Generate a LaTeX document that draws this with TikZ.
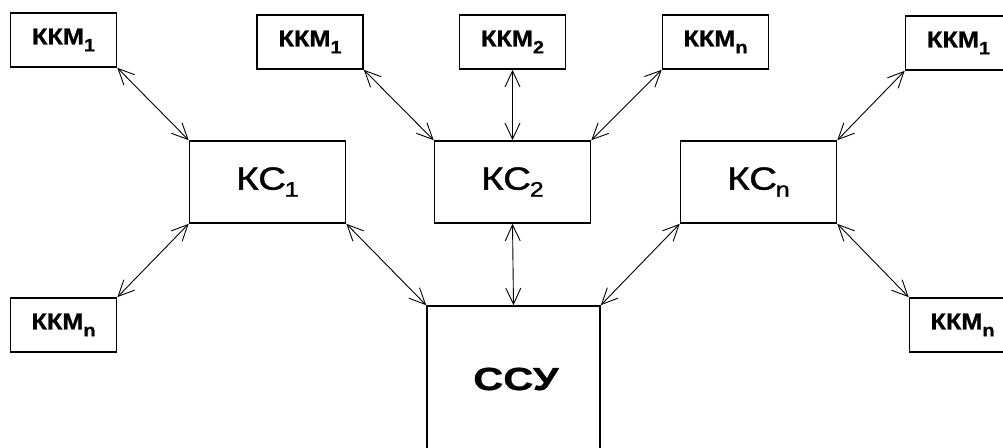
\documentclass[tikz,border=0pt]{standalone}
\usepackage{fontspec}
\setmainfont{Liberation Sans}
\newfontfamily\kcfont[FakeBold=1.2]{Liberation Sans}
\newfontfamily\kkmfont[FakeBold=0.8]{Liberation Sans Bold}
\usetikzlibrary{arrows.meta}
\newcommand{\kkm}[1]{\scalebox{1.1}[1]{\kkmfont\fontsize{23}{23}\selectfont ККМ\raisebox{-7pt}{\fontsize{18}{18}\selectfont #1}}}
\newcommand{\kcs}[1]{\scalebox{1.2}[1]{\kcfont\fontsize{32}{32}\selectfont КС\kern-1pt\raisebox{-7pt}{\fontsize{21}{21}\selectfont #1}}}
\begin{document}
\begin{tikzpicture}[x=1pt,y=-1pt,
  box/.style={draw, line width=1.7pt, inner sep=0pt},
  small/.style={box, minimum width=106pt, minimum height=54pt},
  mid/.style={box, minimum width=156pt, minimum height=82pt},
  link/.style={line width=0.9pt,
    {Straight Barb[length=16pt,width=15pt,line width=0.9pt]}-{Straight Barb[length=16pt,width=15pt,line width=0.9pt]}}
]
\useasboundingbox (0,0) rectangle (1003,447);
\clip (0,0) rectangle (1003,447);
% left group
\node[small] (l1) at (63.5,40) {\kkm{1}};
\node[small] (ln) at (63.5,325) {\kkm{n}};
\node[mid] (kc1) at (267.5,182) {\kcs{1}};
% middle group
\node[small] (m1) at (310,42) {\kkm{1}};
\node[small] (m2) at (512.5,42) {\kkm{2}};
\node[small] (mn) at (715.5,42) {\kkm{n}};
\node[mid] (kc2) at (512.5,182) {\kcs{2}};
% right group
\node[mid] (kcn) at (758.5,182) {\kcs{n}};
\node[small] (r1) at (958.5,43) {\kkm{1}};
\node[small] (rn) at (962.5,325) {\kkm{n}};
% central unit
\node[box, minimum width=173pt, minimum height=170pt] (ccy) at (513.5,391) {};
\node[inner sep=0pt] (ccyl) at (516,379) {\scalebox{1.3}[1]{\kkmfont\fontsize{32}{32}\selectfont ССУ}};
% connectors
\draw[link] (l1.south east) -- (kc1.north west);
\draw[link] (ln.north east) -- (kc1.south west);
\draw[link] (kc1.south east) -- (ccy.north west);
\draw[link] (m1.south east) -- (kc2.north west);
\draw[link] (m2.south) -- (kc2.north);
\draw[link] (mn.south west) -- (kc2.north east);
\draw[link] (kc2.south) -- (ccy.north);
\draw[link] (kcn.south west) -- (ccy.north east);
\draw[link] (r1.south west) -- (kcn.north east);
\draw[link] (rn.north west) -- (kcn.south east);
\end{tikzpicture}
\end{document}
